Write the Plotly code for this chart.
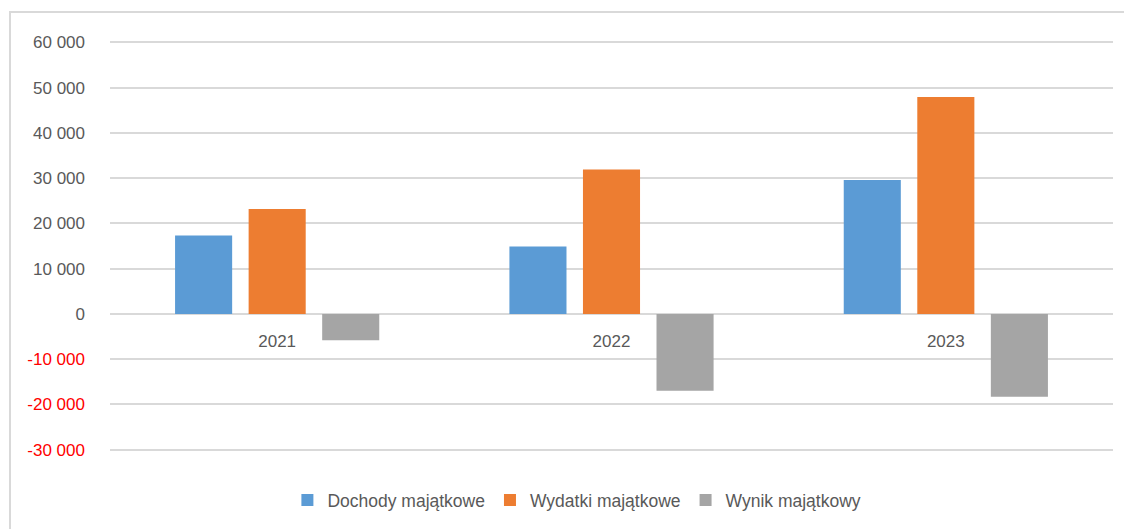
import plotly.graph_objects as go

categories = ["2021", "2022", "2023"]
dochody = [17300, 14900, 29600]
wydatki = [23200, 31900, 47900]
wynik = [-5800, -17000, -18300]

series_names = ["Dochody majątkowe", "Wydatki majątkowe", "Wynik majątkowy"]
series_colors = ["#5b9bd5", "#ed7d31", "#a5a5a5"]

tick_vals = [60000, 50000, 40000, 30000, 20000, 10000, 0, -10000, -20000, -30000]
tick_labels = ["60 000", "50 000", "40 000", "30 000", "20 000", "10 000", "0",
               "-10 000", "-20 000", "-30 000"]

FONT = "Liberation Sans, Arial, sans-serif"
TXT = "#595959"

fig = go.Figure()
for name, vals, col in zip(series_names, [dochody, wydatki, wynik], series_colors):
    fig.add_trace(go.Bar(x=categories, y=vals, name=name, marker_color=col,
                         marker_line_width=0))

# category labels sitting just under the zero line (Excel "next to axis")
fig.add_trace(go.Scatter(x=categories, y=[0] * len(categories), text=categories,
                         mode="markers+text", textposition="bottom center",
                         marker=dict(size=31, opacity=0),
                         textfont=dict(family=FONT, size=17, color=TXT),
                         showlegend=False, hoverinfo="skip"))

ticktext = [
    (f'<span style="color:#ff0000">{t}</span>' if v < 0 else t)
    for v, t in zip(tick_vals, tick_labels)
]

# outer chart border (paper coords relative to plot area)
fig.add_shape(type="rect", xref="paper", yref="paper",
              x0=(2 - 102) / 1003, x1=1.05, y0=-0.4, y1=(443 - 4) / 410,
              line=dict(color="#d9d9d9", width=2), fillcolor="rgba(0,0,0,0)",
              layer="below")

fig.update_layout(
    width=1124, height=521,
    margin=dict(l=102, r=19, t=33, b=78, autoexpand=False),
    paper_bgcolor="white", plot_bgcolor="white",
    barmode="group", bargap=0.34, bargroupgap=0.224,
    font=dict(family=FONT, size=17, color=TXT),
    showlegend=True,
    legend=dict(orientation="h", x=0.4655, xanchor="center", y=-0.12, yanchor="middle",
                font=dict(family=FONT, size=17.5, color=TXT), itemwidth=30,
                traceorder="normal"),
    xaxis=dict(type="category", range=[-0.5, 2.5], showticklabels=False,
               showgrid=False, zeroline=False, showline=False, automargin=False),
    yaxis=dict(range=[-30300, 60300], tickvals=tick_vals, ticktext=ticktext,
               showgrid=True, gridcolor="#d9d9d9", gridwidth=1.5,
               zeroline=True, zerolinecolor="#d9d9d9", zerolinewidth=1.5,
               showline=False, ticks="", ticklabelstandoff=24, automargin=False,
               tickfont=dict(family=FONT, size=17, color=TXT)),
)

fig.write_html("out.html")
